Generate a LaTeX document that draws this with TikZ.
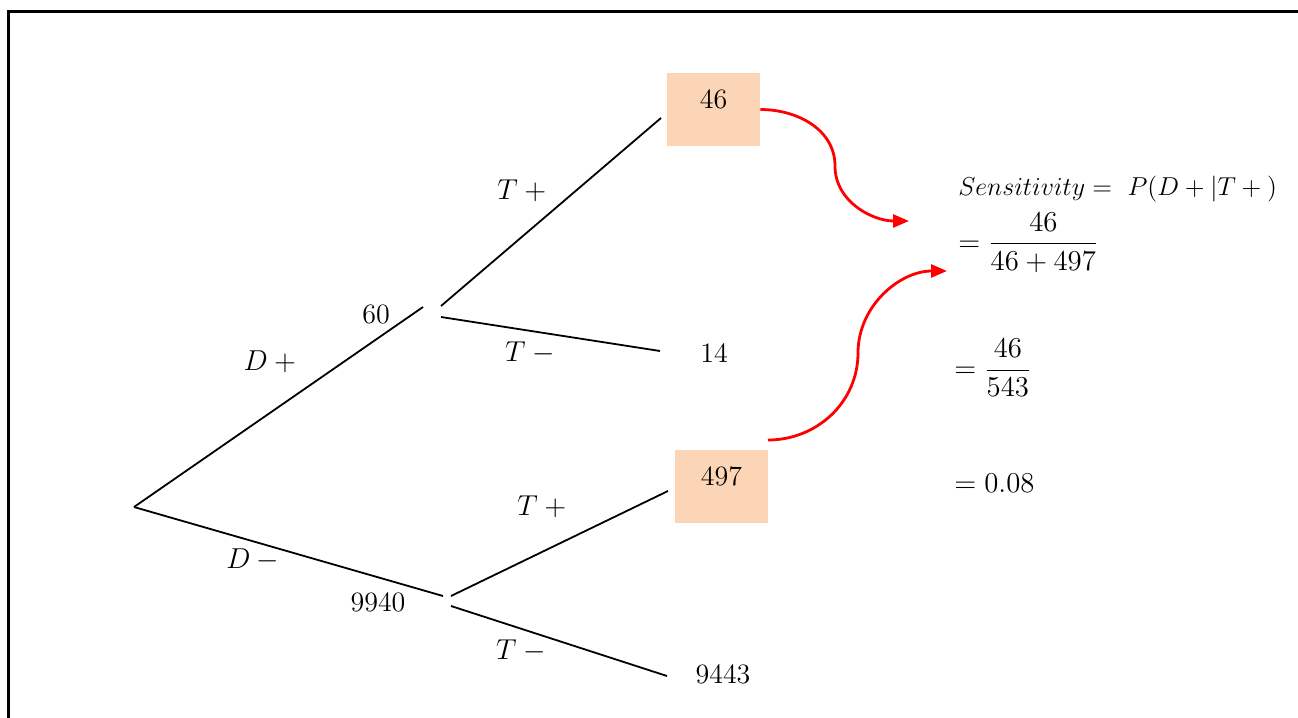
\documentclass[tikz,border=0pt]{standalone}
\usetikzlibrary{arrows.meta}
\definecolor{peach}{HTML}{FBD5B5}
\definecolor{arrowred}{HTML}{FF0000}
\begin{document}
\begin{tikzpicture}[x=0.5pt,y=-0.5pt,
  every node/.style={font=\fontsize{14}{17}\selectfont},
  branch/.style={line width=0.9pt},
  frame/.style={line width=1.5pt},
  hlbox/.style={fill=peach, inner sep=0pt, minimum width=46.5pt,
                text height=17.5pt, text depth=19pt},
  redarrow/.style={arrowred, line width=1.4pt,
                   -{Triangle[length=8pt,width=6.5pt]}},
  eq/.style={anchor=west, inner sep=0pt}]
\useasboundingbox (0,0) rectangle (1298,718);

% outer frame (right and bottom sides lie off the page)
\draw[frame] (8,725) -- (8,11) -- (1305,11);

% branch end points
\coordinate (root) at (134,507);
\coordinate (dpos) at (423,307);
\coordinate (dneg) at (443,596);
\coordinate (uA) at (441,306);
\coordinate (uB) at (441,317);
\coordinate (uTp) at (661,118);
\coordinate (uTn) at (660,351);
\coordinate (lA) at (451,596);
\coordinate (lB) at (451,606);
\coordinate (lTp) at (668,491);
\coordinate (lTn) at (667,676);

% outcome boxes and counts
\node[hlbox] (b46) at (713.5,109.5) {46};
\node[hlbox] (b497) at (721.5,486.5) {497};
\node (n14) at (714,353) {14};
\node (n9443) at (723,674) {9443};
\node (n60) at (376,314) {60};
\node (n9940) at (378,602) {9940};

% branch labels
\node (lDp) at (273,362) {$D+{}$};
\node (lDn) at (256,560) {$D-{}$};
\node (lTpu) at (525,191) {$T+{}$};
\node (lTnu) at (533,353) {$T-{}$};
\node (lTpl) at (545,507) {$T+{}$};
\node (lTnl) at (524,651) {$T-{}$};

% tree branches
\draw[branch] (root) -- (dpos);
\draw[branch] (root) -- (dneg);
\draw[branch] (uA) -- (uTp);
\draw[branch] (uB) -- (uTn);
\draw[branch] (lA) -- (lTp);
\draw[branch] (lB) -- (lTn);

% computation
\node[eq, scale=0.9] (sens) at (958,189) {$Sensitivity=\ P(D+{}|T+{})$};
\node[eq] (eq1) at (958,243) {$\displaystyle=\frac{46}{46+497}$};
\node[eq] (eq2) at (954,368) {$\displaystyle=\frac{46}{543}$};
\node[eq] (eq3) at (954,483) {$=0.08$};

% highlight arrows
\coordinate (t1) at (909,221);
\coordinate (s2) at (768,440);
\coordinate (t2) at (947,271);
\draw[redarrow] (b46.east) to[out=0,in=90] (835,166) to[out=-90,in=180] (t1);
\draw[redarrow] (s2) to[out=0,in=-90] (858,353) to[out=90,in=180] (t2);
\end{tikzpicture}
\end{document}
